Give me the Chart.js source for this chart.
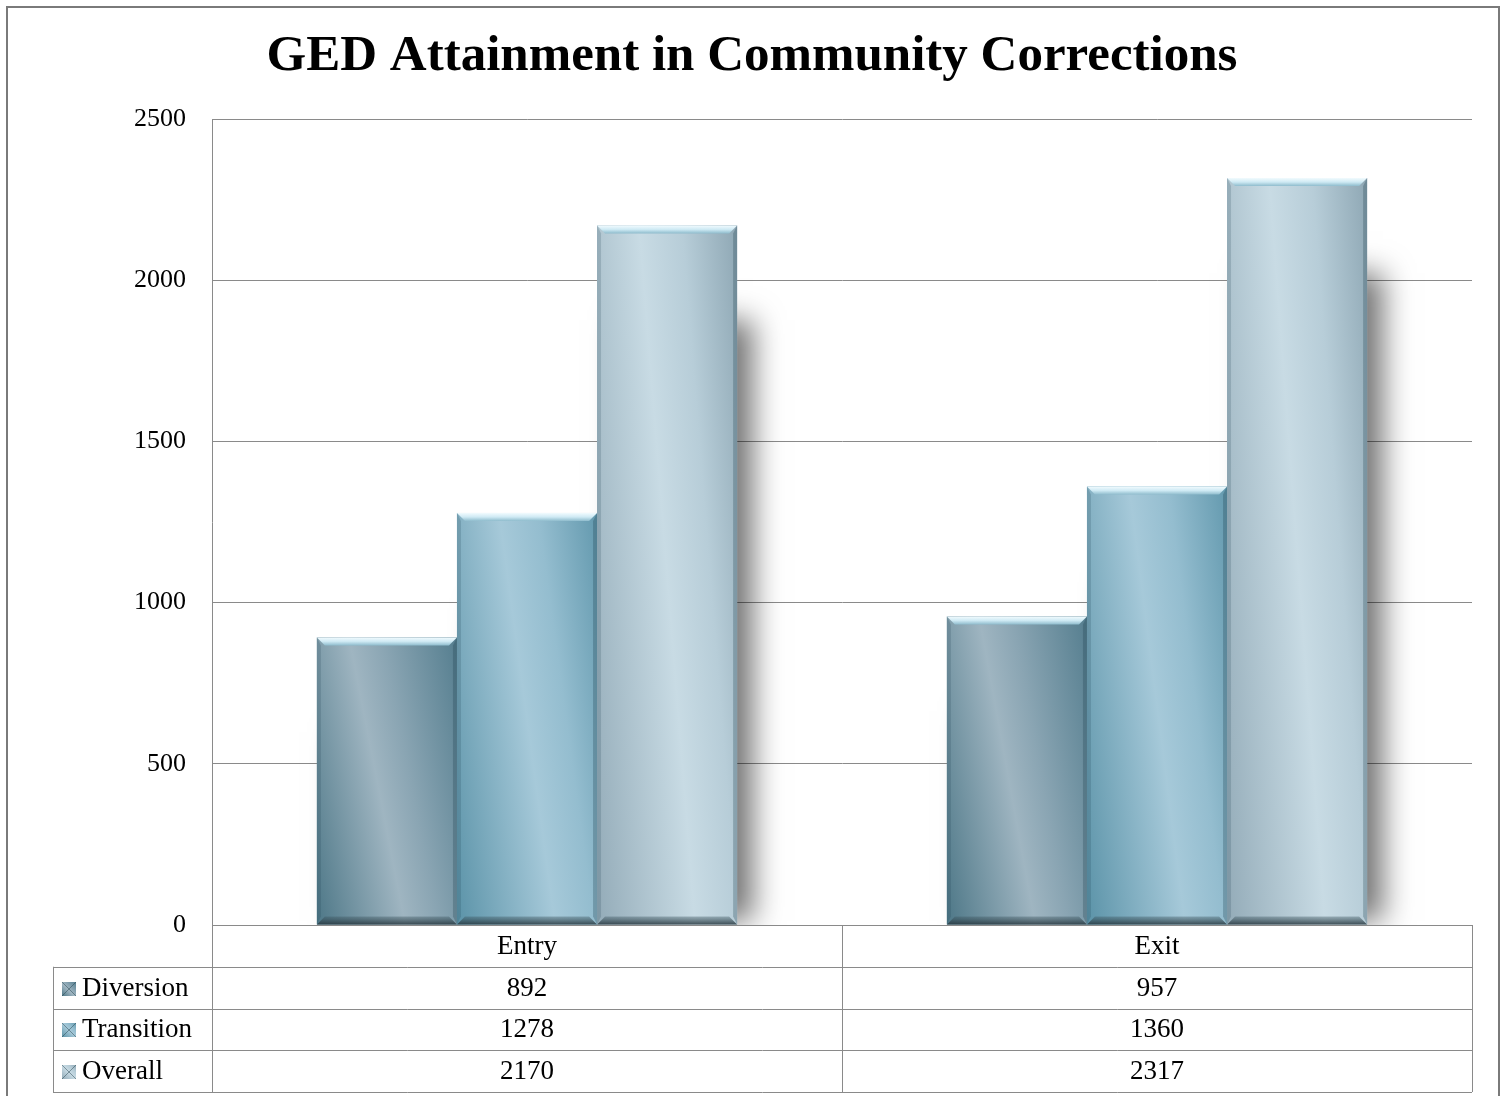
<!DOCTYPE html>
<html>
<head>
<meta charset="utf-8">
<script src="https://cdn.jsdelivr.net/npm/chart.js@4.4.1/dist/chart.umd.min.js"></script>
<style>
  html, body { margin: 0; padding: 0; background: #fff; overflow: hidden; }
  #frame { position: absolute; left: 6px; top: 6px; width: 1490px; height: 1100px; border: 2px solid #7a7a7a; }
  #wrap { position: absolute; left: 0; top: 0; width: 1504px; height: 1096px; }
</style>
</head>
<body>
<div id="frame"></div>
<div id="wrap"><canvas id="gedChart" width="1504" height="1096"></canvas></div>
<script>
// chart data
var chartTitle = 'GED Attainment in Community Corrections';
var categories = ['Entry', 'Exit'];
var seriesNames = ['Diversion', 'Transition', 'Overall'];
var diversion = [892, 957];
var transition = [1278, 1360];
var overall = [2170, 2317];
var yTicks = [0, 500, 1000, 1500, 2000, 2500];

var serif = "'Liberation Serif', 'DejaVu Serif', serif";

// gradient stops per series: dark lower-left, light streak, dark upper-right
var barStyles = [
  { base: '#7d9dab', stops: [[0, '#4d7787'], [0.45, '#9fb5c1'], [0.62, '#8aa5b3'], [1, '#557e8f']] },
  { base: '#8dbbcd', stops: [[0, '#5b93a8'], [0.5, '#a6c9d9'], [0.7, '#94bdcf'], [1, '#6399ae']] },
  { base: '#b6cbd6', stops: [[0, '#93abb8'], [0.5, '#c8dbe4'], [0.72, '#b7cdd8'], [1, '#8ea7b4']] }
];

function barRect(el) {
  var p = el.getProps(['x', 'y', 'base', 'width'], true);
  return { l: p.x - p.width / 2, r: p.x + p.width / 2, top: Math.min(p.y, p.base), bot: Math.max(p.y, p.base) };
}

// soft shadow behind each bar (only the right one shows)
var shadowPlugin = {
  id: 'barShadow',
  beforeDatasetsDraw: function (chart) {
    var ctx = chart.ctx;
    var a = chart.chartArea;
    ctx.save();
    ctx.beginPath();
    ctx.rect(a.left, a.top - 20, a.right - a.left, a.bottom - a.top + 20);
    ctx.clip();
    chart.data.datasets.forEach(function (ds, di) {
      chart.getDatasetMeta(di).data.forEach(function (el) {
        var b = barRect(el);
        var drop = 95;
        ctx.save();
        ctx.shadowColor = 'rgba(0,0,0,0.55)';
        ctx.shadowBlur = 28;
        ctx.shadowOffsetX = 18;
        ctx.shadowOffsetY = 0;
        ctx.fillStyle = '#9a9a9a';
        ctx.fillRect(b.l + 6, b.top + drop, b.r - b.l - 8, b.bot - b.top - drop - 4);
        ctx.restore();
      });
    });
    ctx.restore();
  }
};

// gradient overlay and bevelled edges
var bevelPlugin = {
  id: 'barBevel',
  afterDatasetsDraw: function (chart) {
    var ctx = chart.ctx;
    chart.data.datasets.forEach(function (ds, di) {
      var st = barStyles[di];
      chart.getDatasetMeta(di).data.forEach(function (el) {
        var b = barRect(el);
        var w = b.r - b.l, h = b.bot - b.top;
        var vx = h, vy = -0.4 * w;
        var n = Math.sqrt(vx * vx + vy * vy);
        var len = 1.4 * w * h / n;
        var g = ctx.createLinearGradient(b.l, b.bot, b.l + vx / n * len, b.bot + vy / n * len);
        st.stops.forEach(function (s) { g.addColorStop(s[0], s[1]); });
        ctx.save();
        ctx.fillStyle = g;
        ctx.fillRect(b.l, b.top, w, h);

        var t = 8, s = 4;
        // top bevel
        var tg = ctx.createLinearGradient(0, b.top, 0, b.top + t);
        tg.addColorStop(0, '#f2fbfe');
        tg.addColorStop(0.5, '#cfeaf4');
        tg.addColorStop(1, '#8fbccd');
        ctx.fillStyle = tg;
        ctx.beginPath();
        ctx.moveTo(b.l, b.top); ctx.lineTo(b.r, b.top);
        ctx.lineTo(b.r - t, b.top + t); ctx.lineTo(b.l + t, b.top + t);
        ctx.closePath(); ctx.fill();
        // bottom bevel
        var bg = ctx.createLinearGradient(0, b.bot - t, 0, b.bot);
        bg.addColorStop(0, 'rgba(60,85,95,0.35)');
        bg.addColorStop(1, 'rgba(40,55,62,0.85)');
        ctx.fillStyle = bg;
        ctx.beginPath();
        ctx.moveTo(b.l, b.bot); ctx.lineTo(b.r, b.bot);
        ctx.lineTo(b.r - t, b.bot - t); ctx.lineTo(b.l + t, b.bot - t);
        ctx.closePath(); ctx.fill();
        // side bevels
        ctx.fillStyle = 'rgba(30,60,75,0.18)';
        ctx.beginPath();
        ctx.moveTo(b.l, b.top); ctx.lineTo(b.l + s, b.top + t);
        ctx.lineTo(b.l + s, b.bot - t); ctx.lineTo(b.l, b.bot);
        ctx.closePath(); ctx.fill();
        ctx.fillStyle = 'rgba(30,60,75,0.28)';
        ctx.beginPath();
        ctx.moveTo(b.r, b.top); ctx.lineTo(b.r - s, b.top + t);
        ctx.lineTo(b.r - s, b.bot - t); ctx.lineTo(b.r, b.bot);
        ctx.closePath(); ctx.fill();
        ctx.restore();
      });
    });
  }
};

// title and data table below the plot
var tablePlugin = {
  id: 'dataTable',
  afterDraw: function (chart) {
    var ctx = chart.ctx;
    var area = chart.chartArea;
    var xs = chart.scales.x;
    var colW = (area.right - area.left) / categories.length;
    var rowH = 41.75;
    var legendLeft = 53;
    var top = area.bottom;
    var bottom = top + rowH * (seriesNames.length + 1);

    ctx.save();
    ctx.fillStyle = '#000';
    ctx.font = 'bold 51px ' + serif;
    ctx.textAlign = 'center';
    ctx.textBaseline = 'middle';
    ctx.fillText(chartTitle, 752, 57);

    ctx.strokeStyle = '#8a8a8a';
    ctx.lineWidth = 1;
    ctx.beginPath();
    ctx.moveTo(area.left, top + 0.5); ctx.lineTo(area.right, top + 0.5);
    for (var r = 1; r <= seriesNames.length + 1; r++) {
      var y = Math.round(top + r * rowH) + 0.5;
      ctx.moveTo(legendLeft, y); ctx.lineTo(area.right, y);
    }
    for (var c = 0; c <= categories.length; c++) {
      var x = Math.round(area.left + c * colW) + 0.5;
      ctx.moveTo(x, top); ctx.lineTo(x, bottom);
    }
    ctx.moveTo(legendLeft + 0.5, top + rowH); ctx.lineTo(legendLeft + 0.5, bottom);
    ctx.stroke();

    ctx.font = '27px ' + serif;
    ctx.textAlign = 'center';
    categories.forEach(function (cat, i) {
      ctx.fillText(cat, xs.getPixelForValue(i), top + rowH / 2 + 1);
    });
    chart.data.datasets.forEach(function (ds, di) {
      var cy = top + rowH * (di + 1) + rowH / 2 + 1;
      ds.data.forEach(function (v, i) {
        ctx.textAlign = 'center';
        ctx.fillText(String(v), xs.getPixelForValue(i), cy);
      });
      // legend key
      var kx = 62, ks = 14, ky = Math.round(cy - ks / 2);
      var kg = ctx.createLinearGradient(kx, ky + ks, kx + ks, ky);
      barStyles[di].stops.forEach(function (s) { kg.addColorStop(s[0], s[1]); });
      ctx.fillStyle = kg;
      ctx.fillRect(kx, ky, ks, ks);
      ctx.strokeStyle = 'rgba(40,70,80,0.5)';
      ctx.beginPath();
      ctx.moveTo(kx, ky); ctx.lineTo(kx + ks, ky + ks);
      ctx.moveTo(kx + ks, ky); ctx.lineTo(kx, ky + ks);
      ctx.stroke();
      ctx.fillStyle = '#000';
      ctx.textAlign = 'left';
      ctx.fillText(ds.label, 82, cy);
    });
    ctx.restore();
  }
};

var ctx = document.getElementById('gedChart').getContext('2d');
var gedChart = new Chart(ctx, {
  type: 'bar',
  data: {
    labels: categories,
    datasets: [
      { label: seriesNames[0], data: diversion, backgroundColor: barStyles[0].base },
      { label: seriesNames[1], data: transition, backgroundColor: barStyles[1].base },
      { label: seriesNames[2], data: overall, backgroundColor: barStyles[2].base }
    ]
  },
  options: {
    responsive: false,
    animation: false,
    devicePixelRatio: 1,
    layout: { padding: { left: 0, right: 32, top: 119, bottom: 171 } },
    datasets: { bar: { categoryPercentage: 0.667, barPercentage: 1.0, borderWidth: 0 } },
    plugins: {
      legend: { display: false },
      title: { display: false },
      tooltip: { enabled: false }
    },
    scales: {
      x: { display: false },
      y: {
        min: yTicks[0],
        max: yTicks[yTicks.length - 1],
        afterFit: function (scale) { scale.width = 212; },
        afterBuildTicks: function (scale) {
          scale.ticks = yTicks.map(function (v) { return { value: v }; });
        },
        grid: { color: '#8a8a8a', lineWidth: 1, drawTicks: false },
        border: { display: true, color: '#8a8a8a', width: 1 },
        ticks: {
          color: '#000', padding: 26, font: { family: serif, size: 26 },
          callback: function (v) { return String(v); }
        }
      }
    }
  },
  plugins: [shadowPlugin, bevelPlugin, tablePlugin]
});
</script>
</body>
</html>
